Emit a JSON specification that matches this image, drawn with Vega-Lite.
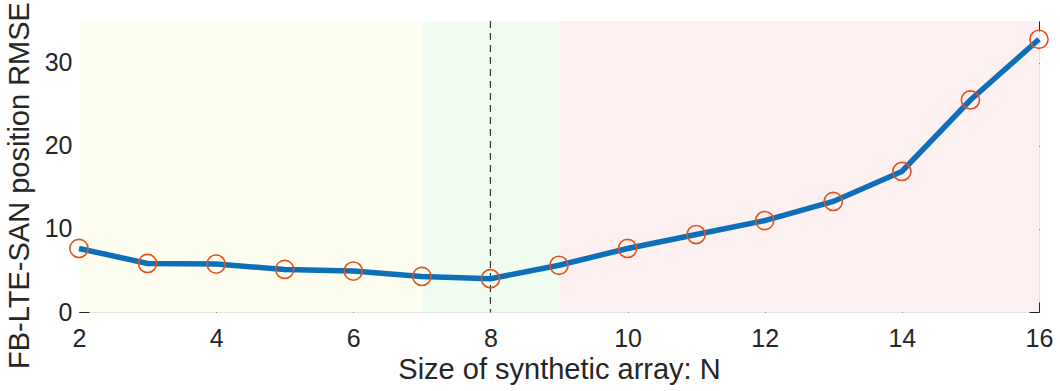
{
  "$schema": "https://vega.github.io/schema/vega-lite/v6.json",
  "width": 960,
  "height": 291,
  "autosize": {"type": "none"},
  "padding": {"left": 79, "top": 21, "right": 21, "bottom": 79},
  "background": "white",
  "config": {
    "view": {"stroke": "#e3e3e3", "strokeWidth": 1},
    "font": "Liberation Sans",
    "axis": {
      "domain": false,
      "grid": false,
      "tickColor": "#262626",
      "tickSize": -10,
      "tickWidth": 1,
      "labelColor": "#262626",
      "titleColor": "#262626",
      "labelFont": "Liberation Sans",
      "titleFont": "Liberation Sans",
      "labelFontSize": 25,
      "titleFontSize": 29,
      "titleFontWeight": "normal",
      "labelFlush": false
    }
  },
  "datasets": {
    "bands": [
      {"start": 2, "end": 7, "zone": "a"},
      {"start": 7, "end": 9, "zone": "b"},
      {"start": 9, "end": 16, "zone": "c"}
    ],
    "rmse": [
      {"N": 2, "rmse": 7.64},
      {"N": 3, "rmse": 5.84},
      {"N": 4, "rmse": 5.76},
      {"N": 5, "rmse": 5.12},
      {"N": 6, "rmse": 4.92},
      {"N": 7, "rmse": 4.28},
      {"N": 8, "rmse": 4.0},
      {"N": 9, "rmse": 5.62},
      {"N": 10, "rmse": 7.64},
      {"N": 11, "rmse": 9.32},
      {"N": 12, "rmse": 11.0},
      {"N": 13, "rmse": 13.3},
      {"N": 14, "rmse": 16.9},
      {"N": 15, "rmse": 25.5},
      {"N": 16, "rmse": 32.8}
    ],
    "best": [{"N": 8}]
  },
  "layer": [
    {
      "data": {"name": "bands"},
      "mark": {"type": "rect"},
      "encoding": {
        "x": {"field": "start", "type": "quantitative", "scale": {"domain": [2, 16], "nice": false, "zero": false},
          "axis": {"orient": "bottom", "values": [2, 4, 6, 8, 10, 12, 14, 16], "format": "d", "labelPadding": 24, "labelFlush": false, "labelOverlap": false, "title": "Size of synthetic array:  N", "titlePadding": 4}},
        "x2": {"field": "end"},
        "color": {"field": "zone", "type": "nominal", "legend": null,
          "scale": {"domain": ["a", "b", "c"], "range": ["#fefef0", "#f0fdf0", "#fdf0f0"]}}
      }
    },
    {
      "data": {"name": "best"},
      "mark": {"type": "rule", "color": "#333333", "strokeWidth": 1.2, "strokeDash": [7, 5]},
      "encoding": {
        "x": {"field": "N", "type": "quantitative",
          "axis": {"orient": "top", "values": [2, 4, 6, 8, 10, 12, 14, 16], "labels": false, "title": null}}
      }
    },
    {
      "data": {"name": "rmse"},
      "mark": {"type": "line", "color": "#0c6fb8", "strokeWidth": 5.5},
      "encoding": {
        "x": {"field": "N", "type": "quantitative", "axis": null},
        "y": {"field": "rmse", "type": "quantitative", "scale": {"domain": [0, 35], "nice": false},
          "axis": {"orient": "left", "values": [0, 10, 20, 30], "labelPadding": 17, "labelFlush": false, "labelOverlap": false, "title": "FB-LTE-SAN position RMSE", "titlePadding": 10, "titleY": 164}}
      }
    },
    {
      "data": {"name": "rmse"},
      "mark": {"type": "point", "shape": "circle", "filled": false, "color": "#e0531b", "strokeWidth": 1.6, "size": 330, "opacity": 1},
      "encoding": {
        "x": {"field": "N", "type": "quantitative", "axis": null},
        "y": {"field": "rmse", "type": "quantitative",
          "axis": {"orient": "right", "values": [0, 10, 20, 30], "labels": false, "title": null}}
      }
    }
  ]
}
